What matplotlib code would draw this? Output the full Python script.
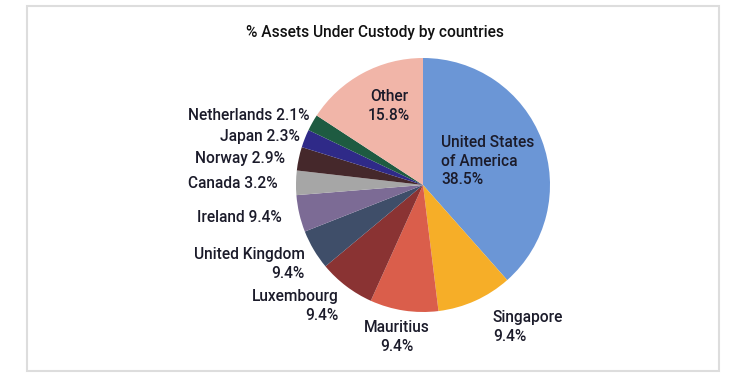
import matplotlib
matplotlib.use("Agg")
import matplotlib.pyplot as plt
from matplotlib.patches import Rectangle

plt.rcParams['font.family'] = ['Roboto', 'DejaVu Sans']

# Data
countries = ["United States of America", "Singapore", "Mauritius", "Luxembourg",
             "United Kingdom", "Ireland", "Canada", "Norway", "Japan",
             "Netherlands", "Other"]
# slice sizes as drawn in the picture
slice_sizes = [38.5, 9.6, 8.7, 7.2, 5.1, 4.7, 3.1, 3.0, 2.3, 2.1, 15.8]
# percentages as printed on the labels
label_values = [38.5, 9.4, 9.4, 9.4, 9.4, 9.4, 3.2, 2.9, 2.3, 2.1, 15.8]
label_texts = ["United States\nof America", "Singapore", "Mauritius", "Luxembourg",
               "United Kingdom", "Ireland", "Canada", "Norway", "Japan",
               "Netherlands", "Other"]
colors = ["#6B96D6", "#F6AE28", "#DA5E4B", "#8A3333", "#3F4E69", "#7C6B95",
          "#A6A6A6", "#45282B", "#2F2A88", "#1E5B41", "#F1B5A8"]

W, H = 750, 379
cx, cy, R = 423, 185, 127

fig = plt.figure(figsize=(7.5, 3.79), dpi=100)
ax = fig.add_axes([0, 0, 1, 1])
ax.axis('off')

ax.pie(slice_sizes, colors=colors, startangle=90, counterclock=False,
       radius=1, center=(0, 0), wedgeprops=dict(linewidth=0))
ax.set_xlim(-cx / R, (W - cx) / R)
ax.set_ylim(-(H - cy) / R, cy / R)
ax.set_aspect('auto')

# border
fig.patches.append(Rectangle((27 / W, 1 - 371 / H), (719 - 27) / W, (371 - 6) / H,
                             transform=fig.transFigure, fill=False,
                             edgecolor="#DDDDDD", linewidth=1.5))

fig.text(375 / W, 1 - 32 / H, "% Assets Under Custody by countries",
         ha='center', va='center', fontsize=11.2, color="#111111",
         fontweight='medium')

def px(x, y):
    return ((x - cx) / R, -(y - cy) / R)

txtcolor = "#1B1B2A"
fs = 11.2
placements = [
    (0, 441, 161, 'left'),
    (1, 493, 327, 'left'),
    (2, 397, 337, 'center'),
    (3, 339, 306, 'right'),
    (4, 305, 264, 'right'),
    (5, 282, 218, 'right'),
    (6, 278, 184, 'right'),
    (7, 285, 158, 'right'),
    (8, 300, 137, 'right'),
    (9, 310, 116, 'right'),
    (10, 389, 106, 'center'),
]
two_line = {0, 1, 2, 3, 4, 10}
for i, x, y, ha in placements:
    sep = "\n" if i in two_line else " "
    s = f"{label_texts[i]}{sep}{label_values[i]}%"
    ax.text(*px(x, y), s, ha=ha, va='center', fontsize=fs, color=txtcolor,
            multialignment=ha, linespacing=1.3, fontweight='medium')

fig.savefig("out.png", dpi=100)
